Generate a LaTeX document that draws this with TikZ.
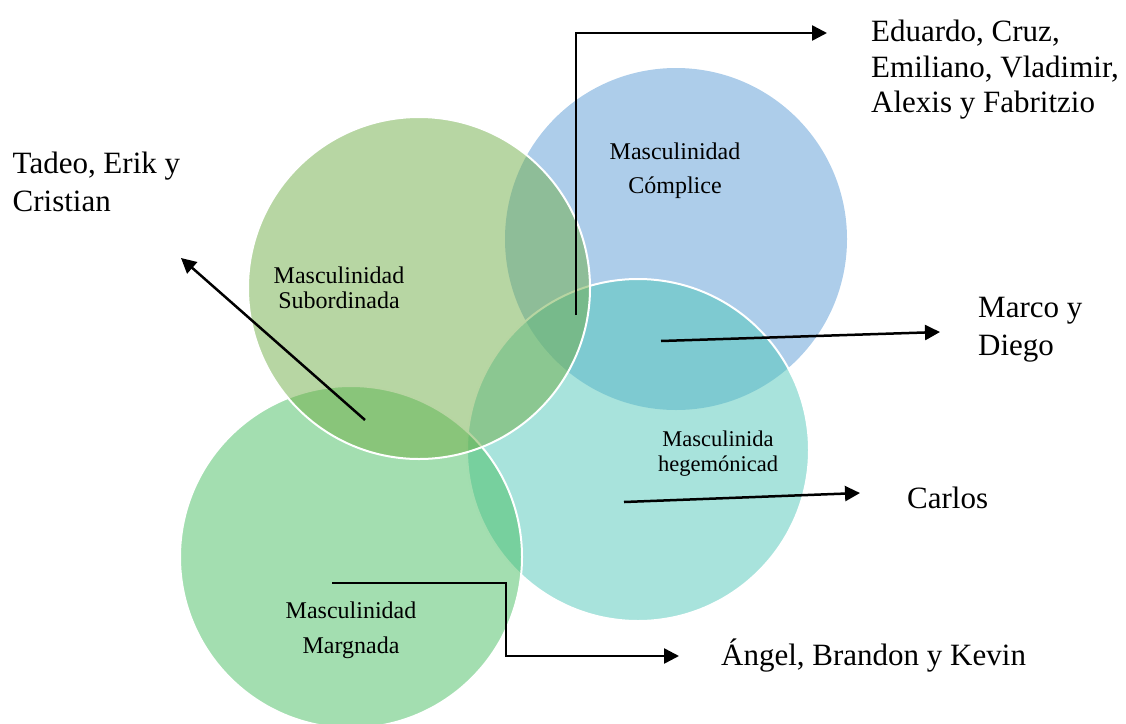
\documentclass[tikz,border=0pt]{standalone}
\usepackage{fontspec}
\setmainfont{Liberation Serif}
\usetikzlibrary{arrows.meta}
\definecolor{cblue}{HTML}{5B9BD5}
\definecolor{cgreen}{HTML}{70AD47}
\definecolor{cteal}{HTML}{51C7B9}
\definecolor{cmarg}{HTML}{47BD61}
\begin{document}
\begin{tikzpicture}[x=1pt,y=-1pt,
    ring/.style={fill opacity=0.5, draw=white, line width=2pt},
    inner/.style={inner sep=0pt, align=center, font=\fontsize{24}{25}\selectfont},
    outer/.style={inner sep=0pt, align=left, font=\fontsize{31}{37}\selectfont},
    pointer/.style={line width=2.5pt, -{Triangle[length=15pt,width=15pt]}}]
    \useasboundingbox (0,0) rectangle (1126,723);

    % Four overlapping circles
    \fill[cblue, fill opacity=0.5] (676,239) circle[radius=171pt];
    \filldraw[ring, fill=cteal] (638,450) circle[radius=171pt];
    \filldraw[ring, fill=cmarg] (351,557) circle[radius=171pt];
    \filldraw[ring, fill=cgreen] (419,288) circle[radius=171pt];

    \node[inner, anchor=north, font=\fontsize{24}{34}\selectfont] (complice) at (675,142.6) {Masculinidad\\C\'omplice};
    \node[inner, anchor=north] (subordinada) at (339,266.6) {Masculinidad\\Subordinada};
    \node[inner, anchor=north, font=\fontsize{22.5}{25}\selectfont] (hegemonica) at (718,430.6) {Masculinida\\hegem\'onicad};
    \node[inner, anchor=north, font=\fontsize{24}{35}\selectfont] (marginada) at (351,601.6) {Masculinidad\\Margnada};

    \node[outer, anchor=north west, font=\fontsize{31}{35.5}\selectfont] (eduardo) at (871,19.8) {Eduardo, Cruz,\\Emiliano, Vladimir,\\Alexis y Fabritzio};
    \node[outer, anchor=north west, font=\fontsize{31}{38}\selectfont] (tadeo) at (12.5,151.8) {Tadeo, Erik y\\Cristian};
    \node[outer, anchor=north west, font=\fontsize{31}{38}\selectfont] (marco) at (978,296.5) {Marco y\\Diego};
    \node[outer, anchor=base west] (carlos) at (907,508) {Carlos};
    \node[outer, anchor=base west] (angel) at (721,665) {\'Angel, Brandon y Kevin};

    % Arrow ends
    \coordinate (complice-tail) at (576,315);
    \coordinate (complice-tip) at (827,33);
    \coordinate (subordinada-tail) at (365,420);
    \coordinate (subordinada-tip) at (181,258);
    \coordinate (centro-tail) at (661,341);
    \coordinate (centro-tip) at (940,332);
    \coordinate (hegemonica-tail) at (624,502);
    \coordinate (hegemonica-tip) at (860,493);
    \coordinate (marginada-tail) at (332,583);
    \coordinate (marginada-bend) at (506,583);
    \coordinate (marginada-tip) at (679,656);

    \draw[pointer] (complice-tail) |- (complice-tip);
    \draw[pointer] (subordinada-tail) -- (subordinada-tip);
    \draw[pointer] (centro-tail) -- (centro-tip);
    \draw[pointer] (hegemonica-tail) -- (hegemonica-tip);
    \draw[pointer] (marginada-tail) -- (marginada-bend) |- (marginada-tip);
\end{tikzpicture}
\end{document}
